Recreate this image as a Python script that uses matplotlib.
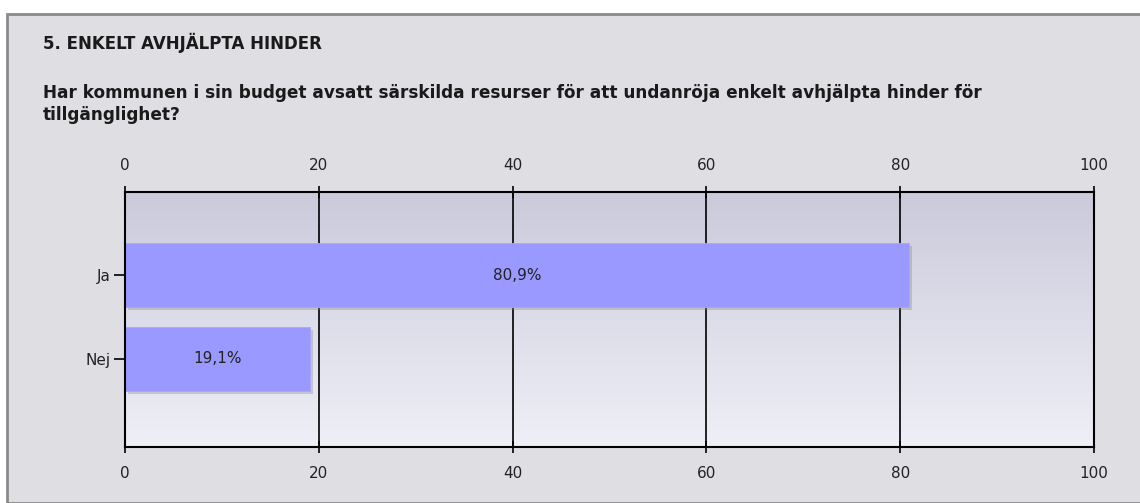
import numpy as np
import matplotlib
matplotlib.use("Agg")
import matplotlib.pyplot as plt
import matplotlib.patheffects as pe
from matplotlib.patches import Rectangle

# data
categories = ["Nej", "Ja"]
values = [19.1, 80.9]
value_labels = ["19,1%", "80,9%"]
xticks = [0, 20, 40, 60, 80, 100]

section_title = "5. ENKELT AVHJÄLPTA HINDER"
question = ("Har kommunen i sin budget avsatt särskilda resurser för att undanröja enkelt avhjälpta hinder för\n"
            "tillgänglighet?")

W, H = 1140, 503
fig = plt.figure(figsize=(W / 100, H / 100), dpi=100)
fig.patch.set_facecolor("white")

# panel background with grey border on top/left
fig.patches.append(Rectangle((7 / W, 0), 1.1, 1 - 14 / H, transform=fig.transFigure,
                             facecolor="#dfdee3", edgecolor="#8a8a8a", linewidth=2, zorder=-10))

fig.text(43 / W, 1 - 43 / H, section_title, fontsize=12, fontweight="bold",
         color="#1a1a1a", va="center", ha="left")
fig.text(43 / W, 1 - 104 / H, question, fontsize=12.2, fontweight="bold",
         color="#1a1a1a", va="center", ha="left", linespacing=1.3)

left, right = 125 / W, 1094 / W
top, bottom = 1 - 192 / H, 1 - 447 / H
ax = fig.add_axes([left, bottom, right - left, top - bottom])
ax.set_facecolor("none")

ypos = np.arange(len(categories))
ax.set_xlim(0, 100)
ax.set_ylim(-1.05, 1.99)

# gradient background
grad = np.linspace(0, 1, 256).reshape(-1, 1)
cmap = matplotlib.colors.LinearSegmentedColormap.from_list("bg", ["#cbcadb", "#efeff7"])
ax.imshow(grad, aspect="auto", cmap=cmap, extent=(0, 100, -1.05, 1.99),
          origin="upper", zorder=0)

for x in xticks[1:-1]:
    ax.axvline(x, color="black", linewidth=1.2, zorder=1)

bars = ax.barh(ypos, values, height=0.76, color="#9999ff", edgecolor="#a7a7ff",
               linewidth=0.6, zorder=2)
for b in bars:
    b.set_path_effects([pe.SimplePatchShadow(offset=(2, -2), shadow_rgbFace="#888888", alpha=0.35),
                        pe.Normal()])

for y, v, lab in zip(ypos, values, value_labels):
    ax.text(v / 2, y, lab, ha="center", va="center", fontsize=11, color="#222222", zorder=3)

ax.set_yticks(ypos)
ax.set_yticklabels(categories, fontsize=11, color="#222222")
ax.set_xticks(xticks)
ax.tick_params(axis="x", top=True, labeltop=True, bottom=True, labelbottom=True,
               length=8, width=1.2, direction="inout", labelsize=11, labelcolor="#222222", pad=10)
ax.tick_params(axis="y", length=8, width=1.2, direction="out", pad=2)
for s in ax.spines.values():
    s.set_linewidth(1.5)
    s.set_color("black")
    s.set_zorder(4)

fig.savefig("out.png", dpi=100, facecolor=fig.get_facecolor())
